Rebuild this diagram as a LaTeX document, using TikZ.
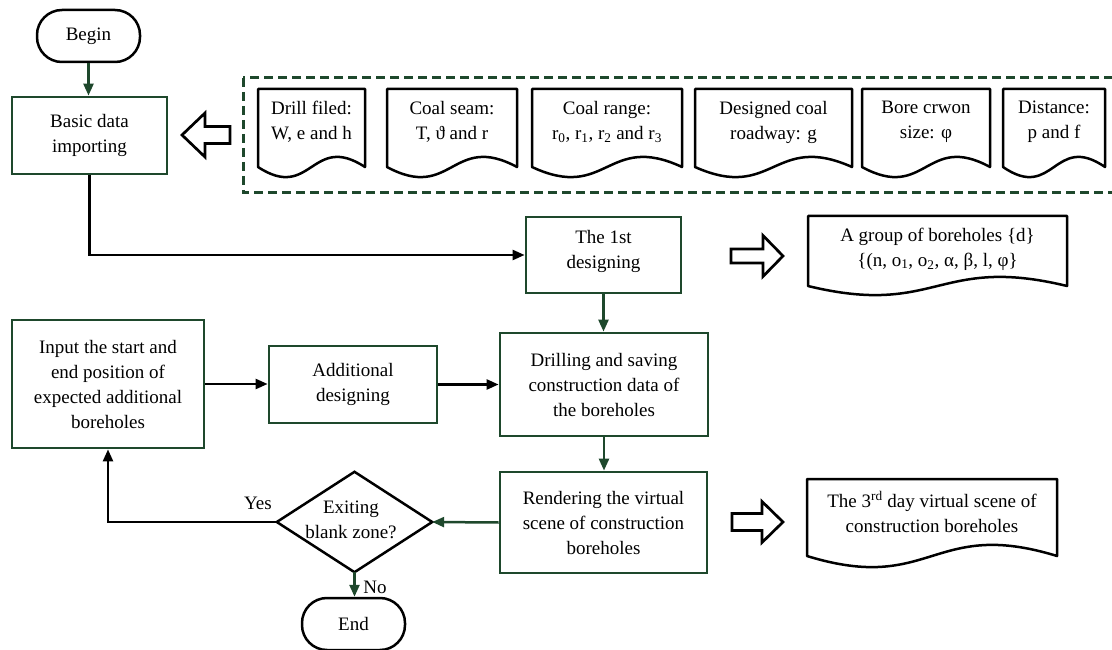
\documentclass[tikz,border=0pt]{standalone}
\usepackage{fontspec}
\setmainfont{Liberation Serif}
\usetikzlibrary{arrows.meta}
\definecolor{dgreen}{RGB}{30,72,44}
\newcommand\docnode[7]{%
  \draw[docline] (#2,#5) -- (#2,#4) -- (#3,#4) -- (#3,#5)
    .. controls ({(#2+#3)/2},{#5-3.5*#6}) and ({(#2+#3)/2},{#5+3.5*#6}) .. (#2,#5) -- cycle;
  \node (#1) at ({(#2+#3)/2},{#4+33}) {#7};}
\begin{document}
\begin{tikzpicture}[x=1pt,y=-1pt,
  every node/.style={font=\fontsize{19}{25}\selectfont, align=center, inner sep=0pt},
  gbox/.style={draw=dgreen, line width=2.8pt, rectangle},
  term/.style={draw=black, line width=2.5pt, rounded corners=25pt, minimum width=103pt, minimum height=52pt},
  garrow/.style={draw=dgreen, line width=2.5pt, -{Triangle[length=12pt,width=10pt]}},
  karrow/.style={draw=black, line width=2.5pt, -{Triangle[length=12pt,width=10pt]}},
  docline/.style={draw=black, line width=2.5pt, line join=round},
  hollow/.style={draw=black, line width=2.7pt, fill=white, line join=miter},
]
\path[use as bounding box] (0,0) rectangle (1112,650);
\clip (0,0) rectangle (1112,650);

% dashed group of input data
\draw[dgreen, line width=3pt, dash pattern=on 9pt off 5pt] (243,78) rectangle (1130,193);
\docnode{d1}{258}{365}{89}{167}{10}{Drill filed:\\W, e and h}
\docnode{d2}{387}{517}{89}{167}{10}{Coal seam:\\T, ϑ and r}
\docnode{d3}{532}{682}{89}{167}{10}{Coal range:\\r\textsubscript{0}, r\textsubscript{1}, r\textsubscript{2} and r\textsubscript{3}}
\docnode{d4}{695}{852}{89}{167}{10}{Designed coal\\roadway: g}
\docnode{d5}{862}{990}{89}{167}{10}{Bore crwon\\size: φ}
\docnode{d6}{1003}{1105}{89}{167}{10}{Distance:\\p and f}

% output documents
\docnode{grp}{808}{1067}{216}{286}{9}{A group of boreholes \{d\}\\\{(n, o\textsubscript{1}, o\textsubscript{2}, α, β, l, φ\}}
\docnode{scene}{807}{1057}{479}{556}{11}{The 3\textsuperscript{rd} day virtual scene of\\construction boreholes}

% hollow block arrows
\draw[hollow] (182,135) -- (205,113) -- (205,126.5) -- (230,126.5) -- (230,143.5) -- (205,143.5) -- (205,157) -- cycle;
\draw[hollow] (783,256) -- (763,235.5) -- (763,249) -- (731,249) -- (731,263) -- (763,263) -- (763,276.5) -- cycle;
\draw[hollow] (783,522) -- (762,501.5) -- (762,513.5) -- (732,513.5) -- (732,530.5) -- (762,530.5) -- (762,542.5) -- cycle;

% process nodes
\node[term] (begin) at (88.5,36) {Begin};
\node[gbox, minimum width=155pt, minimum height=77pt] (basic) at (89.5,135.5) {Basic data\\importing};
\node[gbox, minimum width=155pt, minimum height=76pt] (first) at (603.5,255) {};
\node (firsttext) at (603.5,251) {The 1st\\designing};
\node[gbox, minimum width=192pt, minimum height=128pt] (input) at (108,384) {Input the start and\\end position of\\expected additional\\boreholes};
\node[gbox, minimum width=168pt, minimum height=77pt] (add) at (353,384.5) {Additional\\designing};
\node[gbox, minimum width=208pt, minimum height=103pt] (drill) at (604,384.5) {Drilling and saving\\construction data of\\the boreholes};
\node[gbox, minimum width=207pt, minimum height=101pt] (render) at (603.5,522.5) {Rendering the virtual\\scene of construction\\boreholes};

\node[minimum width=155pt, minimum height=100pt] (dia) at (354.5,522) {};
\draw[line width=2.5pt, line join=miter] (dia.west) -- (dia.north) -- (dia.east) -- (dia.south) -- cycle;
\node (diatext) at (351,520) {Exiting\\blank zone?};
\node[term] (end) at (353.5,624) {End};

\node (yes) at (258,503) {Yes};
\node (no) at (375,587) {No};

% connectors
\draw[garrow] (begin.south) -- (begin.south |- basic.north);
\draw[karrow] (basic.south) |- (first.west);
\draw[garrow] (first.south) -- (first.south |- drill.north);
\draw[garrow] (drill.south) -- (drill.south |- render.north);
\draw[garrow] (render.west) -- (dia.east);
\draw[garrow] (dia.south) -- (dia.south |- end.north);
\draw[karrow] (dia.west) -| (input.south);
\draw[karrow] (input.east) -- (input.east -| add.west);
\draw[karrow] (add.east) -- (drill.west);
\end{tikzpicture}
\end{document}
